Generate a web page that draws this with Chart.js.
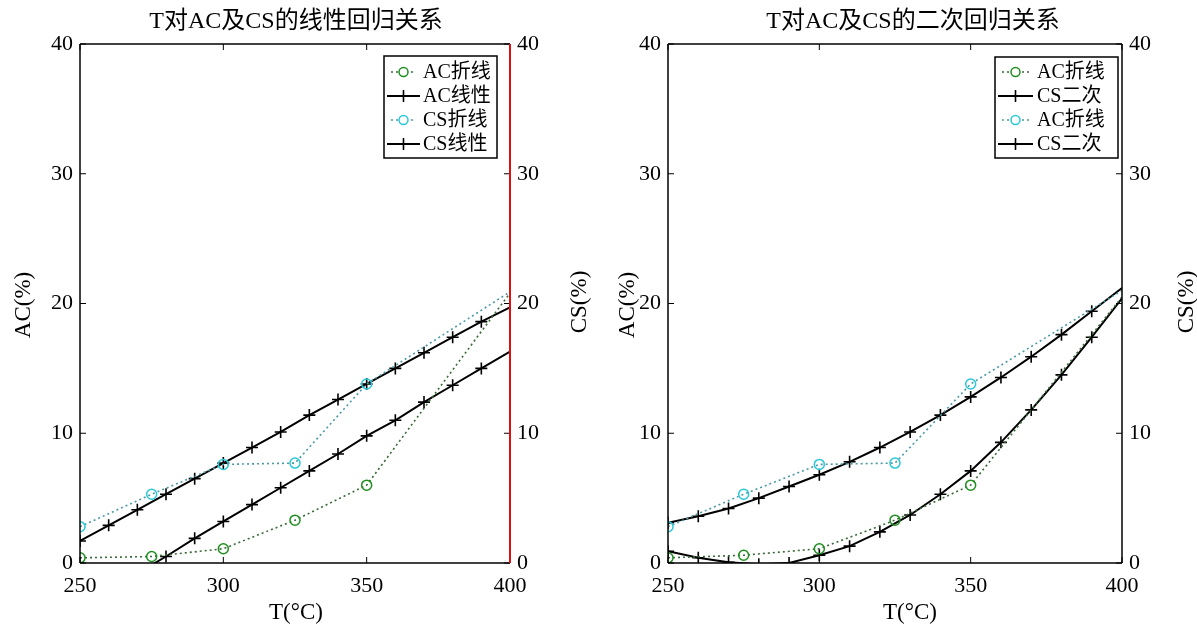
<!DOCTYPE html>
<html><head><meta charset="utf-8">
<script src="https://cdn.jsdelivr.net/npm/chart.js@4.4.1/dist/chart.umd.min.js"></script>
<style>
html,body{margin:0;padding:0;background:#fff}
body{width:1197px;height:626px;overflow:hidden;position:relative}
.w{position:absolute;top:0;height:626px}
</style></head><body>
<div class="w" style="left:0;width:598px"><canvas id="c1"></canvas></div>
<div class="w" style="left:598px;width:599px"><canvas id="c2"></canvas></div>
<script>
// ---------- data ----------
const tObs = [250, 275, 300, 325, 350, 400];
const tFit = [250, 260, 270, 280, 290, 300, 310, 320, 330, 340, 350, 360, 370, 380, 390, 400];
const xTicks = [250, 300, 350, 400];
const yTicks = [0, 10, 20, 30, 40];

const acObsLeft = [0.4, 0.5, 1.1, 3.3, 6.0, 20.8];
const csObsLeft = [2.8, 5.3, 7.6, 7.7, 13.8, 20.9];
const acLinear = [-3.4, -2.1, -0.8, 0.5, 1.9, 3.2, 4.5, 5.8, 7.1, 8.4, 9.8, 11.0, 12.4, 13.7, 15.0, 16.3];
const csLinear = [1.7, 2.9, 4.1, 5.3, 6.5, 7.7, 8.9, 10.1, 11.4, 12.6, 13.8, 15.0, 16.2, 17.4, 18.6, 19.7];

const acObsRight = [0.4, 0.6, 1.1, 3.3, 6.0, 20.5];
const csObsRight = [2.8, 5.3, 7.6, 7.7, 13.8, 21.0];
const acQuad = [0.9, 0.4, 0.05, -0.1, 0.0, 0.6, 1.3, 2.4, 3.7, 5.3, 7.1, 9.3, 11.8, 14.5, 17.4, 20.4];
const csQuad = [3.1, 3.6, 4.2, 5.0, 5.9, 6.8, 7.8, 8.9, 10.1, 11.4, 12.8, 14.3, 15.9, 17.6, 19.4, 21.2];

const labelsLeft = ['AC折线', 'AC线性', 'CS折线', 'CS线性'];
const labelsRight = ['AC折线', 'CS二次', 'AC折线', 'CS二次'];
const titleLeft = 'T对AC及CS的线性回归关系';
const titleRight = 'T对AC及CS的二次回归关系';
const xTitle = 'T(°C)';
const yTitleLeft = 'AC(%)';
const yTitleRight = 'CS(%)';

// ---------- helpers ----------
const FONT = "'Liberation Serif','Times New Roman','Noto Sans CJK SC',serif";
const pts = (xs, ys) => xs.map((x, i) => ({x: x, y: ys[i]}));
const AC_DOT = '#3a6a3a', CS_DOT = '#4a9aa6';
const AC_MK = '#1f8f1f', CS_MK = '#28c8d8';

function obsSet(label, xs, ys, lineC, mkC, axis) {
  return {label, data: pts(xs, ys), yAxisID: axis, showLine: true,
    borderColor: lineC, borderWidth: 1.6, borderDash: [2, 3],
    pointStyle: 'circle', pointRadius: ctx => (ctx.raw && ctx.raw.x >= 400 ? 0 : 5),
    pointBorderColor: mkC, pointBorderWidth: 1.5,
    pointBackgroundColor: 'rgba(0,0,0,0)', _kind: 'obs'};
}
function fitSet(label, xs, ys, axis) {
  return {label, data: pts(xs, ys), yAxisID: axis, showLine: true,
    borderColor: '#000', borderWidth: 2,
    pointStyle: 'cross', pointRadius: ctx => (ctx.raw && ctx.raw.x >= 400 ? 0 : 6),
    pointBorderColor: '#000', pointBorderWidth: 1.6,
    _kind: 'fit'};
}

function makeChart(id, datasets, c) {
  const decor = {
    id: 'decor',
    afterDraw(chart) {
      const {ctx, chartArea: a, scales} = chart;
      ctx.save();
      const ln = (x1, y1, x2, y2) => { ctx.beginPath(); ctx.moveTo(x1, y1); ctx.lineTo(x2, y2); ctx.stroke(); };
      // inner ticks
      ctx.strokeStyle = '#000'; ctx.lineWidth = 1;
      scales.x.ticks.forEach(t => { const px = scales.x.getPixelForValue(t.value); ln(px, a.bottom, px, a.bottom - 6); ln(px, a.top, px, a.top + 6); });
      scales.y.ticks.forEach(t => { const py = scales.y.getPixelForValue(t.value); ln(a.left, py, a.left + 6, py); });
      scales.y2.ticks.forEach(t => { const py = scales.y2.getPixelForValue(t.value); ln(a.right, py, a.right - 6, py); });
      // box
      ctx.lineWidth = 1.5; ctx.strokeStyle = '#000';
      ln(a.left, a.top, a.right, a.top); ln(a.left, a.bottom, a.right, a.bottom); ln(a.left, a.top, a.left, a.bottom);
      ctx.strokeStyle = c.rightColor; ctx.lineWidth = c.rightWidth;
      ln(a.right, a.top, a.right, a.bottom);
      // legend
      const L = c.legend;
      ctx.fillStyle = '#fff'; ctx.fillRect(L.x, L.y, L.w, L.h);
      ctx.strokeStyle = '#000'; ctx.lineWidth = 1.5; ctx.strokeRect(L.x, L.y, L.w, L.h);
      chart.data.datasets.forEach((ds, i) => {
        const yy = L.y + L.first + i * L.step;
        const x1 = L.x + 3, x2 = L.x + L.sample, xm = (x1 + x2) / 2;
        if (ds._kind === 'obs') {
          ctx.strokeStyle = ds.borderColor; ctx.lineWidth = 1.6; ctx.setLineDash([2, 3]);
          ln(x1 + 4, yy, x2 - 4, yy); ctx.setLineDash([]);
          ctx.fillStyle = '#fff'; ctx.beginPath(); ctx.arc(xm, yy, 5, 0, Math.PI * 2); ctx.fill();
          ctx.strokeStyle = ds.pointBorderColor; ctx.lineWidth = 1.5; ctx.beginPath(); ctx.arc(xm, yy, 4.5, 0, Math.PI * 2); ctx.stroke();
        } else {
          ctx.strokeStyle = '#000'; ctx.lineWidth = 2; ln(x1, yy, x2, yy);
          ctx.lineWidth = 1.6; ln(xm, yy - 6, xm, yy + 6);
        }
        ctx.fillStyle = '#000'; ctx.font = '20px ' + FONT; ctx.textAlign = 'left'; ctx.textBaseline = 'middle';
        ctx.fillText(ds.label, L.x + L.textX, yy + 1);
      });
      // titles
      ctx.fillStyle = '#000'; ctx.textAlign = 'center'; ctx.textBaseline = 'middle';
      ctx.font = '24px ' + FONT;
      ctx.fillText(c.title, c.titleX, 22);
      ctx.font = '23px ' + FONT;
      ctx.fillText(xTitle, c.xTitleX, 613);
      ctx.save(); ctx.translate(c.yLX, 305); ctx.rotate(-Math.PI / 2); ctx.fillText(yTitleLeft, 0, 0); ctx.restore();
      ctx.save(); ctx.translate(c.yRX, 302); ctx.rotate(-Math.PI / 2); ctx.fillText(yTitleRight, 0, 0); ctx.restore();
      ctx.restore();
    }
  };
  const tickFont = {family: FONT, size: 22};
  const yScale = (pos, w) => ({
    type: 'linear', position: pos, min: 0, max: 40,
    afterBuildTicks: s => { s.ticks = yTicks.map(v => ({value: v})); },
    ticks: {font: tickFont, color: '#000', padding: 7},
    grid: {display: false, drawTicks: false}, border: {display: false},
    afterFit: s => { s.width = w; }
  });
  return new Chart(document.getElementById(id), {
    type: 'scatter',
    data: {datasets},
    options: {
      responsive: true, maintainAspectRatio: false, animation: false,
      layout: {padding: {top: 44, left: 0, right: 0, bottom: 0}},
      plugins: {legend: {display: false}, tooltip: {enabled: false}, title: {display: false}},
      scales: {
        x: {type: 'linear', min: 250, max: 400,
          afterBuildTicks: s => { s.ticks = xTicks.map(v => ({value: v})); },
          ticks: {font: tickFont, color: '#000', padding: 10, maxRotation: 0},
          grid: {display: false, drawTicks: false}, border: {display: false},
          afterFit: s => { s.height = 63; }},
        y: yScale('left', c.leftW),
        y2: yScale('right', c.rightW)
      }
    },
    plugins: [decor]
  });
}

makeChart('c1', [
  obsSet(labelsLeft[0], tObs, acObsLeft, AC_DOT, AC_MK, 'y'),
  fitSet(labelsLeft[1], tFit, acLinear, 'y'),
  obsSet(labelsLeft[2], tObs, csObsLeft, CS_DOT, CS_MK, 'y2'),
  fitSet(labelsLeft[3], tFit, csLinear, 'y2')
], {leftW: 80, rightW: 88, rightColor: '#e01010', rightWidth: 2,
    title: titleLeft, titleX: 296, xTitleX: 296, yLX: 24, yRX: 580,
    legend: {x: 384, y: 56, w: 113, h: 102, first: 16, step: 24, sample: 36, textX: 39}});

makeChart('c2', [
  obsSet(labelsRight[0], tObs, acObsRight, AC_DOT, AC_MK, 'y'),
  fitSet(labelsRight[1], tFit, acQuad, 'y'),
  obsSet(labelsRight[2], tObs, csObsRight, CS_DOT, CS_MK, 'y2'),
  fitSet(labelsRight[3], tFit, csQuad, 'y2')
], {leftW: 70, rightW: 75, rightColor: '#000', rightWidth: 1.5,
    title: titleRight, titleX: 315, xTitleX: 312, yLX: 30, yRX: 589,
    legend: {x: 397, y: 57, w: 123, h: 101, first: 15, step: 24, sample: 38, textX: 42}});
</script>
</body></html>
